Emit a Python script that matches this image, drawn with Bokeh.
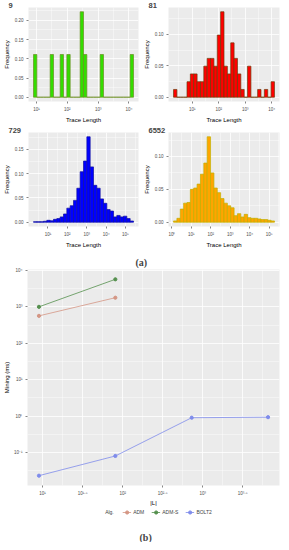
import math
from bokeh.plotting import figure
from bokeh.models import (Range1d, FixedTicker, NumeralTickFormatter, CustomJSTickFormatter,
                          Legend, LegendItem)
from bokeh.layouts import column, row
from bokeh.embed import file_html
from bokeh.resources import INLINE

# ---------------- data: (a) trace-length histograms ----------------
tags = ["9", "81", "729", "6552"]

# panel "9"  (counts of 9 traces, 30 bins on log10 trace length)
h9_first_bin = 0.96
h9_bin_width = 0.108
h9_counts = [1, 0, 0, 0, 0, 1, 0, 0, 1, 0, 1, 0, 0, 0, 2,
             1, 0, 0, 0, 0, 1, 0, 0, 0, 0, 0, 0, 0, 0, 1]
h9_total = 9
h9_xticks = [1, 2, 3, 4]
h9_yticks = [0.00, 0.05, 0.10, 0.15, 0.20]

# panel "81"
h81_first_bin = 0.36
h81_bin_width = 0.127
h81_counts = [1, 0, 0, 0, 2, 3, 3, 2, 2, 4, 5, 5, 4, 8, 11,
              4, 3, 7, 5, 3, 1, 0, 4, 0, 0, 1, 0, 1, 0, 2]
h81_total = 81
h81_xticks = [1, 2, 3, 4]
h81_yticks = [0.00, 0.05, 0.10]

# panel "729" (frequencies)
h729_first_bin = 0.34
h729_bin_width = 0.172
h729_freq = [0.001, 0.001, 0.001, 0.002, 0.004, 0.003, 0.006, 0.0075, 0.011, 0.017,
             0.029, 0.034, 0.045, 0.070, 0.104, 0.126, 0.176, 0.114, 0.076, 0.070,
             0.048, 0.039, 0.026, 0.023, 0.011, 0.014, 0.011, 0.0125, 0.0075, 0.0025]
h729_xticks = [1, 2, 3, 4, 5]
h729_yticks = [0.00, 0.05, 0.10, 0.15]

# panel "6552" (frequencies)
h6552_first_bin = 0.17
h6552_bin_width = 0.173
h6552_freq = [0.002, 0.006, 0.020, 0.029, 0.030, 0.050, 0.052, 0.058, 0.073, 0.090,
              0.130, 0.075, 0.052, 0.045, 0.036, 0.029, 0.025, 0.022, 0.010, 0.013,
              0.008, 0.012, 0.007, 0.006, 0.006, 0.005, 0.004, 0.004, 0.003, 0.002]
h6552_xticks = [0, 1, 2, 3, 4, 5]
h6552_yticks = [0.00, 0.05, 0.10]

# ---------------- data: (b) mining time vs |L| ----------------
L_sizes = [9, 81, 729, 6552]
adm_ms = [565, 1780]
adm_s_ms = [1000, 5700]
bolt2_ms = [0.023, 0.08, 0.9, 0.93]
alg_names = ["ADM", "ADM-S", "BOLT2"]
alg_colors = ["#D49684", "#55904E", "#7F8CEB"]
b_xticks = [1.0, 1.5, 2.0, 2.5, 3.0, 3.5]
b_yticks = [-1, 0, 1, 2, 3, 4]

# ---------------- style ----------------
FONT = "Liberation Sans"
BG = "#EBEBEB"
HIST_H = 125
SUP_JS = r"""
const m = {"0":"\u2070","1":"\u00b9","2":"\u00b2","3":"\u00b3","4":"\u2074","5":"\u2075",
           "6":"\u2076","7":"\u2077","8":"\u2078","9":"\u2079","-":"\u207b",".":"\u00b7"};
const e = Math.round(Math.log10(tick) * 10) / 10;
return "10" + String(e).split("").map(c => m[c]).join("");
"""


def style_axes(p, label_standoff=2):
    for ax in (p.xaxis[0], p.yaxis[0]):
        ax.axis_line_color = None
        ax.major_tick_line_color = "#333333"
        ax.major_tick_line_width = 0.6
        ax.major_tick_in = 0
        ax.major_tick_out = 2
        ax.minor_tick_line_color = None
        ax.major_label_text_font = FONT
        ax.major_label_text_font_size = "4.5px"
        ax.major_label_text_color = "#4D4D4D"
        ax.major_label_standoff = 1
        ax.axis_label_text_font = FONT
        ax.axis_label_text_font_size = "6px"
        ax.axis_label_text_font_style = "normal"
        ax.axis_label_text_color = "black"
        ax.axis_label_standoff = label_standoff


def style_grid(p, xt, xm, yt, ym):
    xtk = FixedTicker(ticks=xt, minor_ticks=xm)
    ytk = FixedTicker(ticks=yt, minor_ticks=ym)
    p.xaxis.ticker = xtk
    p.yaxis.ticker = ytk
    p.xgrid.ticker = xtk
    p.ygrid.ticker = ytk
    for g in (p.xgrid[0], p.ygrid[0]):
        g.grid_line_color = "white"
        g.grid_line_width = 0.8
        g.minor_grid_line_color = "white"
        g.minor_grid_line_width = 0.4


def hist_panel(tag, first_bin, bin_width, freqs, xticks, yticks, fill, edge, w):
    n = len(freqs)
    centres = [first_bin + k * bin_width for k in range(n)]
    left = [10 ** (c - bin_width / 2) for c in centres]
    right = [10 ** (c + bin_width / 2) for c in centres]
    lo = centres[0] - bin_width / 2
    hi = centres[-1] + bin_width / 2
    pad = 0.05 * (hi - lo)
    ymax = max(freqs)
    p = figure(width=w, height=HIST_H, x_axis_type="log",
               x_range=Range1d(10 ** (lo - pad), 10 ** (hi + pad)),
               y_range=Range1d(-0.05 * ymax, 1.05 * ymax),
               output_backend="svg", toolbar_location=None, title=tag,
               min_border_left=0, min_border_right=2, min_border_top=0, min_border_bottom=0)
    p.title.align = "left"
    p.title.offset = -20
    p.title.standoff = 0
    p.title.text_font = FONT
    p.title.text_font_size = "7.5px"
    p.title.text_font_style = "bold"
    p.background_fill_color = BG
    p.border_fill_color = "white"
    p.outline_line_color = None
    p.quad(left=left, right=right, bottom=0, top=freqs,
           fill_color=fill, line_color=edge, line_width=0.7)
    xt = [10.0 ** t for t in xticks]
    xm = [10.0 ** (t + 0.5) for t in [xticks[0] - 1] + xticks]
    ym = [t + 0.025 for t in yticks]
    style_grid(p, xt, xm, yticks, ym)
    style_axes(p)
    p.xaxis.formatter = CustomJSTickFormatter(code=SUP_JS)
    p.yaxis.formatter = NumeralTickFormatter(format="0.00")
    p.xaxis.axis_label = "Trace Length"
    p.yaxis.axis_label = "Frequency"
    return p


p1 = hist_panel(tags[0], h9_first_bin, h9_bin_width, [c / h9_total for c in h9_counts],
                h9_xticks, h9_yticks, "#33DD00", "#6B8E23", 140)
p2 = hist_panel(tags[1], h81_first_bin, h81_bin_width, [c / h81_total for c in h81_counts],
                h81_xticks, h81_yticks, "#FF0000", "#6E3B0A", 141)
p3 = hist_panel(tags[2], h729_first_bin, h729_bin_width, h729_freq,
                h729_xticks, h729_yticks, "#0000FF", "#1010A0", 140)
p4 = hist_panel(tags[3], h6552_first_bin, h6552_bin_width, h6552_freq,
                h6552_xticks, h6552_yticks, "#FFA500", "#C0B000", 141)

# ---------------- (b) ----------------
all_x = [math.log10(v) for v in L_sizes]
all_y = [math.log10(v) for v in adm_ms + adm_s_ms + bolt2_ms]
xlo, xhi = min(all_x), max(all_x)
ylo, yhi = min(all_y), max(all_y)
xp, yp = 0.05 * (xhi - xlo), 0.05 * (yhi - ylo)

p5 = figure(width=281, height=258, x_axis_type="log", y_axis_type="log",
            x_range=Range1d(10 ** (xlo - xp), 10 ** (xhi + xp)),
            y_range=Range1d(10 ** (ylo - yp), 10 ** (yhi + yp)),
            output_backend="svg", toolbar_location=None, title="(a)",
            min_border_left=0, min_border_right=2, min_border_top=19, min_border_bottom=0)
p5.background_fill_color = BG
p5.border_fill_color = "white"
p5.outline_line_color = None
p5.title.align = "left"
p5.title.offset = 108
p5.title.standoff = 4
p5.title.text_font = "Liberation Serif"
p5.title.text_font_size = "10px"
p5.title.text_font_style = "bold"

all_series = [adm_ms, adm_s_ms, bolt2_ms]
for ys, col in zip(all_series, alg_colors):
    xs = L_sizes[:len(ys)]
    p5.line(xs, ys, line_color=col, line_width=0.8)
    p5.scatter(xs, ys, size=3.2, fill_color=col, line_color=col)

bxt = [10.0 ** t for t in b_xticks]
bxm = [10.0 ** (t + 0.25) for t in [b_xticks[0] - 0.5] + b_xticks]
byt = [10.0 ** t for t in b_yticks]
bym = [10.0 ** (t + 0.5) for t in [b_yticks[0] - 1] + b_yticks]
style_grid(p5, bxt, bxm, byt, bym)
style_axes(p5, label_standoff=1)
p5.xaxis.formatter = CustomJSTickFormatter(code=SUP_JS)
p5.yaxis.formatter = CustomJSTickFormatter(code=SUP_JS)
p5.xaxis.axis_label = "|L|"
p5.yaxis.axis_label = "Mining (ms)"

# ---------------- legend strip and "(b)" caption ----------------
p6 = figure(width=281, height=34, x_axis_type="log", y_axis_type="log",
            x_range=Range1d(1e6, 1e7), y_range=Range1d(1e6, 1e7),
            output_backend="svg", toolbar_location=None,
            x_axis_location=None, y_axis_location=None,
            title="(b)", title_location="below",
            min_border_left=0, min_border_right=0, min_border_top=0, min_border_bottom=0)
p6.background_fill_color = "white"
p6.border_fill_color = "white"
p6.outline_line_color = None
p6.grid.visible = False
p6.title.align = "left"
p6.title.offset = 112
p6.title.standoff = 0
p6.title.text_font = "Liberation Serif"
p6.title.text_font_size = "10px"
p6.title.text_font_style = "bold"

head = p6.line(x=[L_sizes[0]], y=[bolt2_ms[0]], line_alpha=0)
items = [LegendItem(label="Alg.", renderers=[head])]
for name, ys, col in zip(alg_names, all_series, alg_colors):
    xs = L_sizes[:len(ys)]
    lr = p6.line(xs, ys, line_color=col, line_width=0.8)
    sr = p6.scatter(xs, ys, size=3.2, fill_color=col, line_color=col)
    items.append(LegendItem(label=name, renderers=[lr, sr]))

legend = Legend(items=items, orientation="horizontal", location="top_center",
                label_text_font=FONT, label_text_font_size="5px",
                glyph_width=9, glyph_height=8, label_height=8, label_width=10,
                label_standoff=2, spacing=7, padding=1, margin=0,
                border_line_color=None, background_fill_alpha=0)
p6.add_layout(legend)

layout = column(row(p1, p2), row(p3, p4), p5, p6)
with open("out.html", "w", encoding="utf-8") as f:
    f.write(file_html(layout, INLINE))
